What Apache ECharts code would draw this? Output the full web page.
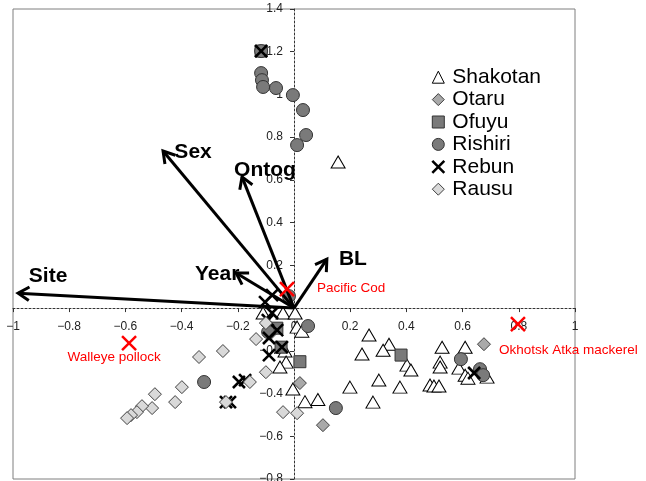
<!DOCTYPE html>
<html><head><meta charset="utf-8">
<script src="https://cdn.jsdelivr.net/npm/echarts@6/dist/echarts.min.js"></script>
<style>html,body{margin:0;padding:0;background:#fff}#c{width:646px;height:481px}</style>
</head><body><div id="c"></div>
<script>
// ---- data ----
const shakotan = [[0.157,0.684],[-0.039,-0.023],[0.004,-0.023],[-0.110,-0.023],[0.011,-0.089],[0.028,-0.108],
 [-0.032,-0.201],[-0.028,-0.253],[-0.050,-0.276],[-0.004,-0.379],[0.039,-0.438],[0.085,-0.428],
 [0.267,-0.126],[0.338,-0.169],[0.317,-0.197],[0.242,-0.215],[0.402,-0.267],[0.416,-0.290],
 [0.302,-0.337],[0.199,-0.370],[0.377,-0.370],[0.281,-0.440],
 [0.527,-0.183],[0.609,-0.183],[0.520,-0.253],[0.520,-0.276],[0.587,-0.281],[0.609,-0.314],[0.619,-0.328],[0.687,-0.323],
 [0.484,-0.360],[0.498,-0.365],[0.516,-0.365]];
const otaru = [[0.021,-0.351],[0.103,-0.548],[0.676,-0.169],[-0.085,-0.120]];
const ofuyu = [[-0.117,1.203],[-0.061,-0.094],[-0.046,-0.183],[0.021,-0.251],[0.381,-0.220]];
const rishiri = [[-0.117,1.203],[-0.117,1.100],[-0.114,1.067],[-0.110,1.035],[-0.064,1.030],[-0.004,0.997],[0.032,0.927],[0.043,0.810],[0.011,0.763],
 [-0.018,0.056],[0.050,-0.084],[-0.092,-0.112],[-0.320,-0.346],[0.149,-0.468],[0.594,-0.239],[0.662,-0.286],[0.673,-0.314]];
const rebun = [[-0.117,1.203],[-0.078,0.061],[-0.103,0.028],[-0.078,-0.023],[-0.093,-0.056],[-0.060,-0.103],[-0.089,-0.140],
 [-0.043,-0.183],[-0.089,-0.220],[-0.196,-0.346],[-0.174,-0.337],[-0.242,-0.440],[-0.228,-0.440],[0.641,-0.304]];
const rausu = [[-0.338,-0.229],[-0.253,-0.201],[-0.135,-0.145],[-0.100,-0.070],[-0.100,-0.300],[-0.157,-0.346],[-0.242,-0.440],
 [-0.399,-0.370],[-0.495,-0.403],[-0.423,-0.440],[-0.505,-0.468],[-0.541,-0.459],[-0.559,-0.487],[-0.580,-0.501],[-0.594,-0.515],
 [-0.039,-0.487],[0.011,-0.492]];

const arrowNames = ['Site','Sex','Ontog','Year','BL'];
const arrowX = [-0.982,-0.466,-0.185,-0.206,0.117];
const arrowY = [0.070,0.735,0.614,0.164,0.229];

const speciesNames = ['Pacific Cod','Walleye pollock','Okhotsk Atka mackerel'];
const speciesX = [-0.025,-0.587,0.797];
const speciesY = [0.089,-0.164,-0.075];

const xTicks = {min:-1, max:1, interval:0.2};
const yTicks = {min:-0.8, max:1.4, interval:0.2};

// ---- style/layout ----
const FONT = '"Liberation Sans", Arial, Helvetica, sans-serif';
const GRID = {left:13, right:71, top:9, bottom:2};
const W = 646, H = 481;
const plotW = W - GRID.left - GRID.right, plotH = H - GRID.top - GRID.bottom;
// shift axes (line + ticks + labels) from the grid edges to the zero lines
const xAxisOffset = -plotH * (0 - yTicks.min) / (yTicks.max - yTicks.min);
const yAxisOffset = -plotW * (0 - xTicks.min) / (xTicks.max - xTicks.min);

const arrowLabelOffsets = [[30,-17],[30,1],[23,-7],[-19,1],[26,0]];
const speciesLabelLayout = [{dx:30,dy:-1,align:'left'},{dx:-15,dy:14,align:'center'},{dx:-19,dy:26,align:'left'}];
const X_PATH = 'path://M0,0L10,10M10,0L0,10';
function fmt(v){ return String(v).replace('-', '\u2212'); }

const styles = {
  Shakotan:{symbol:'triangle', size:[14,12], item:{color:'#fff', borderColor:'#000', borderWidth:1}},
  Otaru:{symbol:'diamond', size:13, item:{color:'#a9a9a9', borderColor:'#404040', borderWidth:1}},
  Ofuyu:{symbol:'rect', size:12, item:{color:'#7a7a7a', borderColor:'#333', borderWidth:1}},
  Rishiri:{symbol:'circle', size:13, item:{color:'#7a7a7a', borderColor:'#333', borderWidth:1}},
  Rebun:{symbol:X_PATH, size:12, item:{color:'rgba(0,0,0,0)', borderColor:'#000', borderWidth:2.6}},
  Rausu:{symbol:'diamond', size:13, item:{color:'#d9d9d9', borderColor:'#404040', borderWidth:1}}
};
const seriesData = {Shakotan:shakotan, Otaru:otaru, Ofuyu:ofuyu, Rishiri:rishiri, Rebun:rebun, Rausu:rausu};
const names = Object.keys(seriesData);

const scatterSeries = names.map(n => ({
  name:n, type:'scatter', data:seriesData[n], symbol:styles[n].symbol, symbolSize:styles[n].size,
  itemStyle:Object.assign({opacity:1}, styles[n].item), z:2, emphasis:{disabled:true}
}));

const arrowSeries = {
  type:'custom', coordinateSystem:'cartesian2d', z:5, clip:false, silent:true,
  data: arrowNames.map((n,i)=>[arrowX[i], arrowY[i], i]),
  renderItem(params, api){
    const o = api.coord([0,0]);
    const t = api.coord([api.value(0), api.value(1)]);
    const ang = Math.atan2(t[1]-o[1], t[0]-o[0]);
    const L = 13, A = 0.55;
    const h1 = [t[0]-L*Math.cos(ang-A), t[1]-L*Math.sin(ang-A)];
    const h2 = [t[0]-L*Math.cos(ang+A), t[1]-L*Math.sin(ang+A)];
    const i = api.value(2), off = arrowLabelOffsets[i];
    return {type:'group', children:[
      {type:'polyline', shape:{points:[o,t]}, style:{stroke:'#000', lineWidth:3, fill:null}},
      {type:'polyline', shape:{points:[h1,t,h2]}, style:{stroke:'#000', lineWidth:3, fill:null}},
      {type:'text', x:t[0]+off[0], y:t[1]+off[1], style:{text:arrowNames[i], fontFamily:FONT, fontWeight:'bold', fontSize:21, fill:'#000', align:'center', verticalAlign:'middle'}}
    ]};
  }
};

const speciesSeries = {
  type:'custom', coordinateSystem:'cartesian2d', z:6, clip:false, silent:true,
  data: speciesNames.map((n,i)=>[speciesX[i], speciesY[i], i]),
  renderItem(params, api){
    const p = api.coord([api.value(0), api.value(1)]);
    const i = api.value(2), lay = speciesLabelLayout[i], s = 7;
    return {type:'group', children:[
      {type:'line', shape:{x1:p[0]-s,y1:p[1]-s,x2:p[0]+s,y2:p[1]+s}, style:{stroke:'#ff0000', lineWidth:2.5}},
      {type:'line', shape:{x1:p[0]+s,y1:p[1]-s,x2:p[0]-s,y2:p[1]+s}, style:{stroke:'#ff0000', lineWidth:2.5}},
      {type:'text', x:p[0]+lay.dx, y:p[1]+lay.dy, style:{text:speciesNames[i], fontFamily:FONT, fontSize:13.5, fill:'#ff0000', align:lay.align, verticalAlign:'middle'}}
    ]};
  }
};

const axisCommon = {
  axisLine:{onZero:false, lineStyle:{color:'#333', width:1, type:[2,2]}},
  axisTick:{show:true, length:4, lineStyle:{color:'#333'}},
  splitLine:{show:false}
};
const labelBase = {fontFamily:FONT, fontSize:12, color:'#222'};

const chart = echarts.init(document.getElementById('c'), null, {renderer:'canvas', width:W, height:H});
chart.setOption({
  animation:false,
  backgroundColor:'#fff',
  grid:Object.assign({show:true, borderColor:'#7f7f7f', borderWidth:1, backgroundColor:'rgba(0,0,0,0)', containLabel:false, outerBoundsMode:'none'}, GRID),
  xAxis:Object.assign({type:'value', position:'bottom', offset:xAxisOffset, min:xTicks.min, max:xTicks.max, interval:xTicks.interval}, axisCommon,
    {axisLabel:Object.assign({}, labelBase, {margin:13, formatter:v=>fmt(v)})}),
  yAxis:Object.assign({type:'value', position:'left', offset:yAxisOffset, min:yTicks.min, max:yTicks.max, interval:yTicks.interval}, axisCommon,
    {axisLabel:Object.assign({}, labelBase, {margin:11, formatter:v=> v===0 ? '' : fmt(v)})}),
  legend:{
    orient:'vertical', left:426, top:61, itemWidth:12, itemHeight:12, itemGap:0, selectedMode:false,
    textStyle:{fontFamily:FONT, fontSize:21, color:'#000', lineHeight:22.4, padding:[0,0,0,3]},
    data:names.map(n => ({name:n, icon:styles[n].symbol, itemStyle:Object.assign({}, styles[n].item)}))
  },
  series:[...scatterSeries, arrowSeries, speciesSeries]
});
</script></body></html>
